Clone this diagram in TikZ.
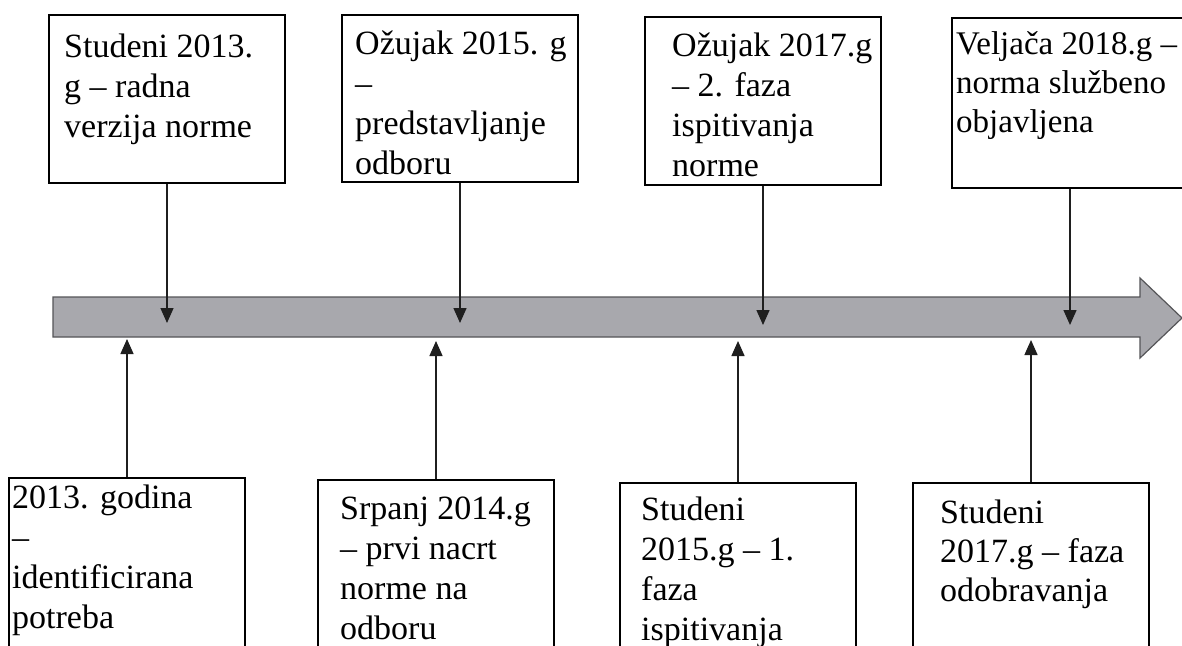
\documentclass[tikz,border=0pt]{standalone}
\usepackage{fontspec}
\setmainfont{Liberation Serif}
\usetikzlibrary{arrows.meta}
\definecolor{shaftgray}{RGB}{168,168,173}
\definecolor{shaftedge}{RGB}{85,85,88}
\tikzset{
  boxst/.style={draw=black, line width=2.2pt, fill=white, rectangle, inner sep=0pt},
  txtline/.style={anchor=base west, inner sep=0pt, font=\fontsize{34}{40}\selectfont},
  txtsmall/.style={txtline, font=\fontsize{33}{39}\selectfont},
  conn/.style={draw=black!88, line width=1.4pt, -{Triangle[length=15pt,width=13pt]}},
}
% #1 name, #2 x, #3 first baseline, #4 line spacing, #5 lines, optional style
\newcommand\boxlines[6][txtline]{%
  \foreach \t [count=\i] in {#6} {
    \node[#1] (#2-\i) at (#3,{#4+(\i-1)*#5}) {\t};
  }%
}
\begin{document}
\begin{tikzpicture}[x=1pt,y=-1pt]
\useasboundingbox (0,0) rectangle (1182,645);
\clip (0,0) rectangle (1182,645);
\fill[white] (0,0) rectangle (1182,645);
% main timeline arrow
\draw[shaftedge, fill=shaftgray, line width=1.2pt, line join=miter]
  (53,297) -- (1140,297) -- (1140,278) -- (1182,318) -- (1140,358) -- (1140,337) -- (53,337) -- cycle;
% top boxes
\node[boxst, minimum width=236pt, minimum height=168pt] (B1) at (167,99) {};
\node[boxst, minimum width=236pt, minimum height=167pt] (B2) at (460,98.5) {};
\node[boxst, minimum width=236pt, minimum height=168pt] (B3) at (763,101) {};
\node[boxst, minimum width=236pt, minimum height=170pt] (B4) at (1070,103) {};
% bottom boxes
\node[boxst, minimum width=236pt, minimum height=202pt] (B5) at (127,579) {};
\node[boxst, minimum width=236pt, minimum height=200pt] (B6) at (436,580) {};
\node[boxst, minimum width=236pt, minimum height=197pt] (B7) at (738,581.5) {};
\node[boxst, minimum width=236pt, minimum height=197pt] (B8) at (1031,581.5) {};
% texts
\boxlines{T1}{64}{57}{40}{Studeni 2013.,g – radna,verzija norme}
\boxlines{T2}{355}{54}{40}{Ožujak 2015. g,–,predstavljanje,odboru}
\boxlines{T3}{672}{56}{40}{Ožujak 2017.g,– 2. faza,ispitivanja,norme}
\boxlines[txtsmall]{T4}{956}{54}{39}{Veljača 2018.g –,norma službeno,objavljena}
\boxlines{T5}{12}{508}{40}{2013. godina,–,identificirana,potreba}
\boxlines{T6}{340}{519}{40}{Srpanj 2014.g,– prvi nacrt,norme na,odboru}
\boxlines{T7}{641}{520}{40}{Studeni,2015.g – 1.,faza,ispitivanja}
\boxlines{T8}{940}{523}{39}{Studeni,2017.g – faza,odobravanja}
% connector end points on the timeline
\coordinate (d1) at (167,323);
\coordinate (d2) at (460,323);
\coordinate (d3) at (763,325);
\coordinate (d4) at (1070,325);
\coordinate (u1) at (127,339);
\coordinate (u2) at (436,341);
\coordinate (u3) at (738,341);
\coordinate (u4) at (1031,340);
% connectors
\draw[conn] (B1.south) -- (d1);
\draw[conn] (B2.south) -- (d2);
\draw[conn] (B3.south) -- (d3);
\draw[conn] (B4.south) -- (d4);
\draw[conn] (B5.north) -- (u1);
\draw[conn] (B6.north) -- (u2);
\draw[conn] (B7.north) -- (u3);
\draw[conn] (B8.north) -- (u4);
\end{tikzpicture}
\end{document}
